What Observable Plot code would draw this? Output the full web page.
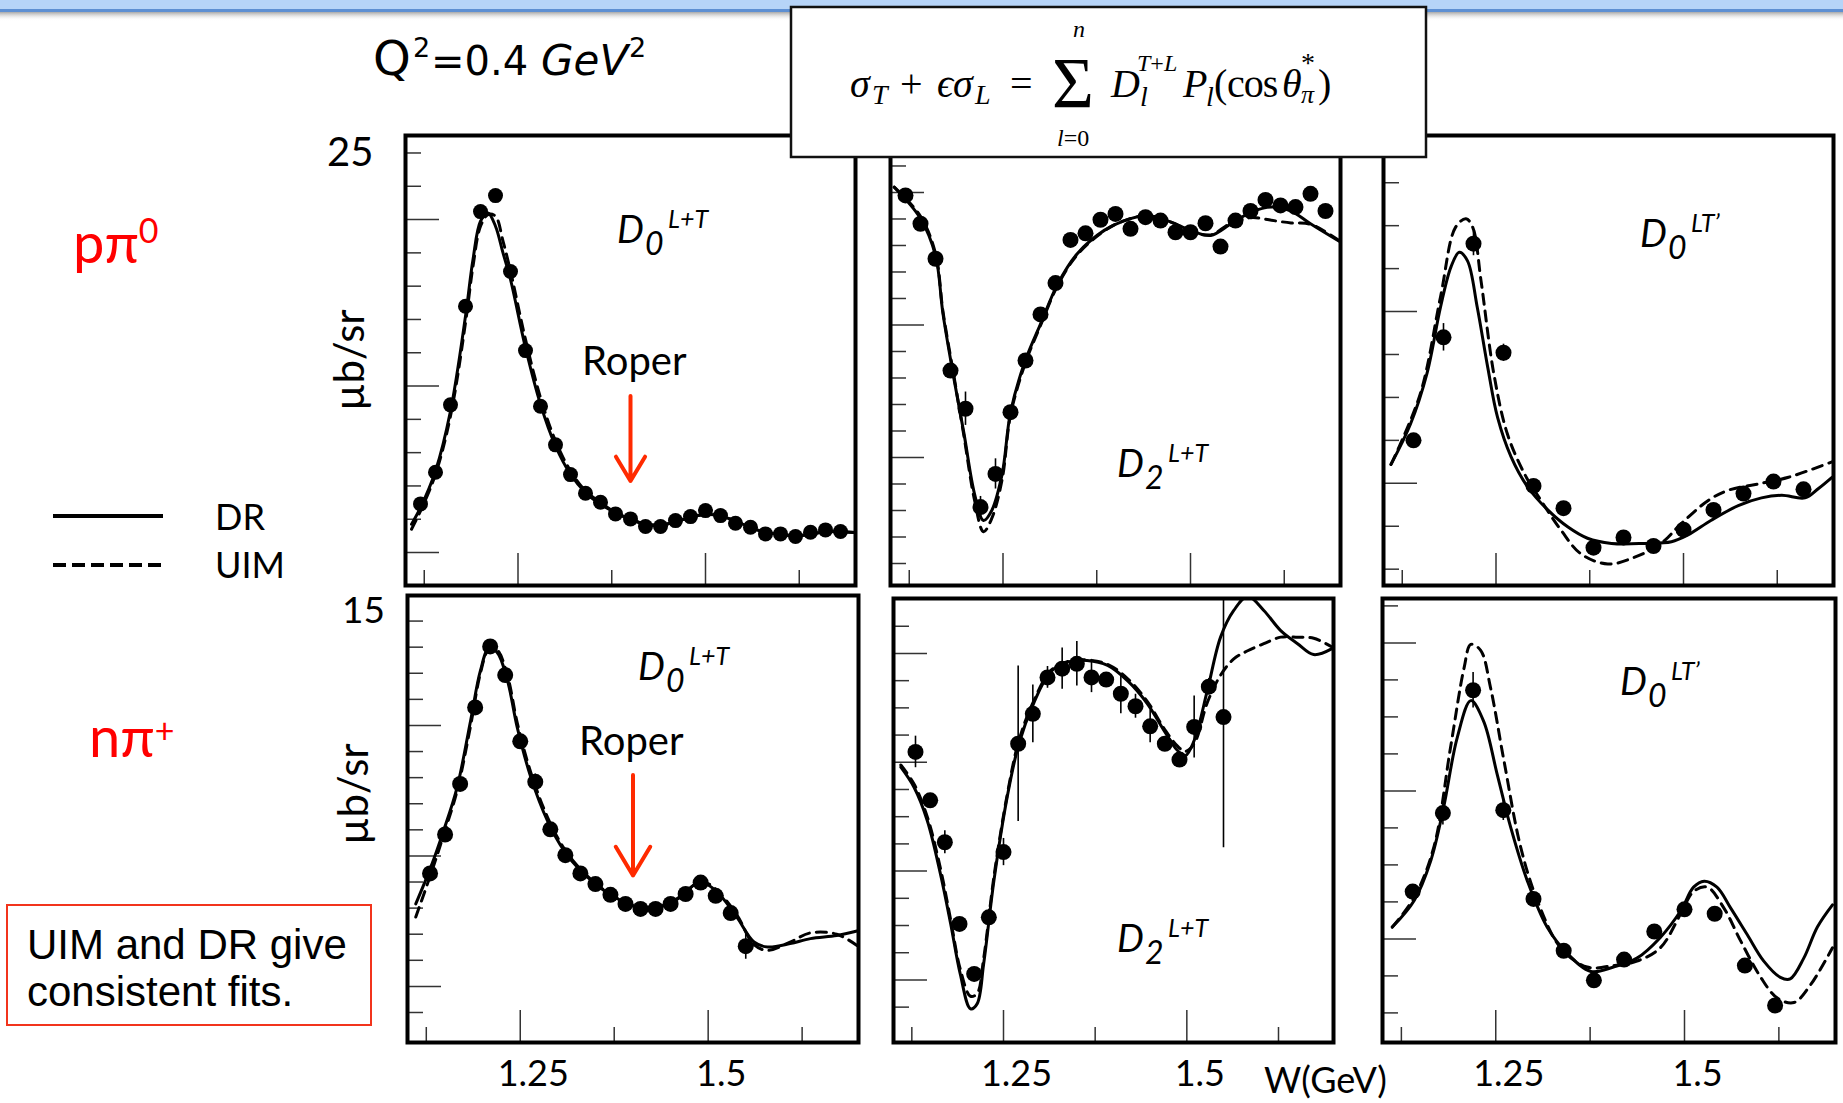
<!DOCTYPE html>
<html><head><meta charset="utf-8">
<script src="https://cdn.jsdelivr.net/npm/d3@7"></script>
<script src="https://cdn.jsdelivr.net/npm/@observablehq/plot@0.6"></script>
<style>
html,body{margin:0;padding:0;background:#fff;}
#page{position:relative;width:1843px;height:1103px;overflow:hidden;background:#fff;}
</style></head>
<body><div id="page"></div>
<script>
// ---------- axes (W in GeV) ----------
const X_DOMAIN = [1.1, 1.7];
const xMajor = [1.25, 1.5];
const xMinor = [1.125, 1.375, 1.625];
const xTickLabels = ["1.25", "1.5"];

// ---------- p pi0 : D0 L+T ----------
const p1W = [1.12,1.14,1.16,1.18,1.20,1.22,1.24,1.26,1.28,1.30,1.32,1.34,1.36,1.38,1.40,1.42,1.44,1.46,1.48,1.50,1.52,1.54,1.56,1.58,1.60,1.62,1.64,1.66,1.68];
const p1Y = [2.92,4.82,8.87,14.79,20.48,21.44,16.88,12.13,8.79,6.47,4.68,3.56,3.02,2.32,2.02,1.56,1.56,1.92,2.16,2.52,2.22,1.76,1.52,1.12,1.12,0.96,1.22,1.36,1.26];
const p1Err = [0,0,0,0,0,0,0,0,0,0,0,0,0,0,0,0,0,0,0,0,0,0,0,0,0,0,0,0,0];
const p1CurveW = [1.108,1.12,1.14,1.16,1.18,1.19,1.20,1.21,1.22,1.23,1.24,1.26,1.28,1.30,1.32,1.34,1.36,1.38,1.40,1.42,1.44,1.46,1.48,1.50,1.52,1.54,1.56,1.58,1.60,1.62,1.64,1.66,1.68,1.70];
const p1DR  = [1.7,2.7,4.9,8.5,14.2,17.6,19.9,20.4,19.6,18.0,16.4,12.3,8.9,6.4,4.7,3.6,2.9,2.4,2.0,1.7,1.65,1.85,2.1,2.3,2.2,1.9,1.5,1.2,1.1,1.0,1.1,1.25,1.25,1.2];
const p1UIM = [1.4,2.5,4.7,8.2,13.8,17.2,19.6,20.3,20.2,18.7,16.9,12.8,9.3,6.7,4.9,3.7,3.0,2.4,2.0,1.7,1.65,1.85,2.1,2.3,2.2,1.9,1.5,1.2,1.1,1.0,1.1,1.25,1.25,1.2];

// ---------- p pi0 : D2 L+T ----------
const p2W = [1.12,1.14,1.16,1.18,1.20,1.22,1.24,1.26,1.28,1.30,1.32,1.34,1.36,1.38,1.40,1.42,1.44,1.46,1.48,1.50,1.52,1.54,1.56,1.58,1.60,1.62,1.64,1.66,1.68];
const p2Y = [-0.11,-1.18,-2.50,-6.72,-8.16,-11.87,-10.62,-8.29,-6.34,-4.60,-3.42,-1.79,-1.54,-1.03,-0.81,-1.37,-0.93,-1.06,-1.50,-1.50,-1.16,-2.04,-1.06,-0.70,-0.28,-0.49,-0.55,-0.05,-0.70];
const p2Err = [0,0,0,0.2,0.63,0.4,0.57,0,0,0,0,0,0,0,0,0,0,0,0,0,0,0,0,0,0,0,0,0,0];
const p2CurveW = [1.105,1.14,1.16,1.17,1.185,1.198,1.212,1.224,1.235,1.249,1.26,1.279,1.301,1.323,1.349,1.385,1.412,1.443,1.474,1.50,1.527,1.554,1.581,1.608,1.634,1.66,1.70];
const p2DR  = [0.2,-0.98,-2.38,-4.58,-7.09,-9.1,-11.37,-12.38,-12.0,-10.6,-8.3,-6.4,-4.9,-3.45,-2.31,-1.43,-1.06,-0.87,-1.12,-1.43,-1.62,-1.18,-0.74,-0.55,-0.70,-1.18,-1.87];
const p2UIM = [0.2,-0.9,-2.3,-4.5,-7.0,-9.2,-11.6,-12.8,-12.3,-10.8,-8.4,-6.5,-4.95,-3.5,-2.35,-1.45,-1.06,-0.87,-1.12,-1.45,-1.6,-1.15,-0.95,-1.05,-1.15,-1.2,-1.85];

// ---------- p pi0 : D0 LT' ----------
const p3W = [1.14,1.18,1.22,1.26,1.30,1.34,1.38,1.42,1.46,1.50,1.54,1.58,1.62,1.66];
const p3Y = [0.50,1.70,2.79,1.52,-0.03,-0.29,-0.75,-0.63,-0.73,-0.54,-0.31,-0.12,0.02,-0.07];
const p3Err = [0,0.16,0.14,0.1,0,0,0,0,0,0,0,0,0,0];
const p3DRW = [1.110,1.136,1.158,1.176,1.190,1.201,1.212,1.225,1.239,1.252,1.270,1.292,1.319,1.346,1.372,1.404,1.448,1.484,1.506,1.537,1.573,1.604,1.631,1.662,1.680,1.698];
const p3DR  = [0.22,0.69,1.28,2.05,2.52,2.69,2.59,2.05,1.35,0.77,0.31,-0.04,-0.31,-0.51,-0.64,-0.70,-0.70,-0.68,-0.60,-0.43,-0.26,-0.17,-0.14,-0.17,-0.06,0.07];
const p3UIMW = [1.110,1.149,1.176,1.196,1.210,1.219,1.230,1.247,1.265,1.288,1.310,1.337,1.363,1.399,1.435,1.470,1.497,1.533,1.560,1.604,1.640,1.698];
const p3UIM  = [0.22,1.04,2.17,2.98,3.08,2.98,2.36,1.28,0.58,0.11,-0.20,-0.55,-0.82,-0.94,-0.86,-0.70,-0.47,-0.20,-0.08,0.0,0.07,0.25];

// ---------- n pi+ : D0 L+T ----------
const p4W = [1.13,1.15,1.17,1.19,1.21,1.23,1.25,1.27,1.29,1.31,1.33,1.35,1.37,1.39,1.41,1.43,1.45,1.47,1.49,1.51,1.53,1.55];
const p4Y = [4.33,5.82,7.76,10.69,13.03,11.93,9.39,7.84,6.02,5.03,4.33,3.92,3.51,3.16,2.97,2.97,3.16,3.54,3.98,3.47,2.81,1.54];
const p4Err = [0,0,0,0,0,0,0,0.3,0,0,0,0,0,0,0,0,0,0,0,0,0,0.5];
const p4CurveW = [1.111,1.131,1.148,1.166,1.184,1.197,1.208,1.219,1.233,1.246,1.264,1.286,1.308,1.330,1.361,1.388,1.414,1.441,1.463,1.485,1.499,1.516,1.538,1.561,1.579,1.609,1.636,1.671,1.698];
const p4DR  = [3.16,4.57,5.97,7.63,10.19,12.1,12.94,12.81,11.72,9.93,8.02,6.36,5.21,4.44,3.68,3.23,2.98,3.10,3.42,3.95,3.9,3.49,2.66,1.70,1.51,1.64,1.83,1.95,2.12];
const p4UIM = [2.66,4.3,5.8,7.5,10.0,12.0,12.9,12.9,11.9,10.1,8.2,6.5,5.3,4.5,3.7,3.25,3.0,3.1,3.45,3.95,3.95,3.55,2.75,1.6,1.38,1.7,2.05,2.0,1.57];

// ---------- n pi+ : D2 L+T ----------
const p5W = [1.13,1.15,1.17,1.19,1.21,1.23,1.25,1.27,1.29,1.31,1.33,1.35,1.37,1.39,1.41,1.43,1.45,1.47,1.49,1.51,1.53,1.55];
const p5Y = [-1.81,-2.70,-3.47,-4.97,-5.89,-4.85,-3.65,-1.66,-1.11,-0.44,-0.28,-0.19,-0.44,-0.48,-0.74,-0.97,-1.34,-1.66,-1.95,-1.35,-0.61,-1.17];
const p5Err = [0.29,0.1,0.21,0.1,0.1,0.15,0.25,1.43,0.53,0.2,0.38,0.41,0.28,0.1,0.37,0.22,0.30,0.1,0.1,0.57,0.15,2.4];
const p5CurveW = [1.110,1.128,1.146,1.164,1.178,1.191,1.205,1.214,1.223,1.237,1.255,1.271,1.291,1.314,1.337,1.364,1.392,1.419,1.446,1.469,1.487,1.498,1.510,1.528,1.546,1.564,1.583,1.605,1.628,1.651,1.673,1.698];
const p5DR  = [-2.09,-2.46,-3.07,-4.05,-4.97,-5.89,-6.53,-6.44,-5.70,-4.17,-2.64,-1.66,-0.92,-0.34,-0.16,-0.13,-0.22,-0.50,-0.92,-1.42,-1.78,-1.88,-1.60,-0.68,0.30,0.79,1.05,0.79,0.42,0.18,-0.02,0.09];
const p5UIM = [-2.05,-2.4,-3.0,-3.95,-4.9,-5.8,-6.3,-6.25,-5.6,-4.1,-2.6,-1.6,-0.88,-0.32,-0.15,-0.12,-0.2,-0.46,-0.88,-1.38,-1.7,-1.8,-1.66,-0.9,-0.4,-0.1,0.05,0.18,0.30,0.30,0.28,0.12];

// ---------- n pi+ : D0 LT' ----------
const p6W = [1.14,1.18,1.22,1.26,1.30,1.34,1.38,1.42,1.46,1.50,1.54,1.58,1.62];
const p6Y = [0.32,0.85,1.68,0.87,0.27,-0.08,-0.28,-0.14,0.05,0.20,0.17,-0.18,-0.45];
const p6Err = [0,0.08,0.12,0.07,0,0,0,0,0,0,0,0,0];
const p6DRW = [1.113,1.142,1.164,1.181,1.199,1.217,1.234,1.252,1.270,1.292,1.318,1.345,1.376,1.406,1.437,1.468,1.495,1.512,1.526,1.543,1.561,1.583,1.605,1.627,1.640,1.658,1.676,1.696];
const p6DR  = [0.08,0.26,0.53,0.89,1.36,1.61,1.47,1.11,0.75,0.39,0.08,-0.10,-0.22,-0.19,-0.13,0.01,0.19,0.35,0.39,0.35,0.21,0.03,-0.15,-0.26,-0.27,-0.13,0.08,0.23];
const p6UIMW = [1.113,1.142,1.168,1.190,1.208,1.217,1.230,1.243,1.261,1.283,1.305,1.336,1.371,1.406,1.437,1.468,1.495,1.512,1.530,1.552,1.574,1.601,1.623,1.645,1.667,1.696];
const p6UIM  = [0.08,0.28,0.62,1.29,1.83,1.99,1.95,1.70,1.20,0.62,0.26,-0.06,-0.19,-0.18,-0.15,-0.06,0.17,0.32,0.35,0.21,-0.01,-0.26,-0.40,-0.43,-0.31,-0.06];

// ---------- Roper markers ----------
const roperW = 1.40;
const roperArrowPpi0 = [9.4, 4.3];
const roperArrowNpip = [8.1, 4.25];

// ---------- build ----------
const page = document.getElementById("page");
const zip = (ws, ys) => ws.map((w, i) => ({w, y: ys[i]}));

function panel({frame, yDomain, yMajor, yMinor, w, y, err, drW, dr, uimW, uim, r = 8, tickLabels = false, arrow = null}) {
  const [l, t, rr, b] = frame;
  const m = 4, fw = rr - l, fh = b - t;
  const extraB = tickLabels ? 70 : 0;
  const pts = w.map((x, i) => ({w: x, y: y[i], e: err[i]}));
  const tickStyle = {stroke: "#333", strokeWidth: 1.5};
  const marks = [
    Plot.tickY(yMinor, {y: d => d, insetRight: fw - 16, ...tickStyle}),
    Plot.tickY(yMajor, {y: d => d, insetRight: fw - 34, ...tickStyle}),
    Plot.tickX(xMinor, {x: d => d, insetTop: fh - 15, ...tickStyle}),
    Plot.tickX(xMajor, {x: d => d, insetTop: fh - 32, ...tickStyle}),
    Plot.line(zip(uimW, uim), {x: "w", y: "y", curve: "catmull-rom", stroke: "black", strokeWidth: 3, strokeDasharray: "10,7", clip: true}),
    Plot.line(zip(drW, dr), {x: "w", y: "y", curve: "catmull-rom", stroke: "black", strokeWidth: 3, clip: true}),
    Plot.ruleX(pts.filter(d => d.e > 0), {x: "w", y1: d => d.y - d.e, y2: d => d.y + d.e, stroke: "black", strokeWidth: 1.6, clip: true}),
    Plot.dot(pts, {x: "w", y: "y", r, fill: "black", stroke: "none"}),
  ];
  if (arrow) {
    marks.push(Plot.arrow([arrow], {x1: d => d.w, x2: d => d.w, y1: d => d.from, y2: d => d.to,
      stroke: "#ff2a00", strokeWidth: 4, headLength: 24, headAngle: 62}));
  }
  if (tickLabels) {
    marks.push(Plot.text(xMajor, {x: d => d, text: (d, i) => xTickLabels[i], frameAnchor: "bottom",
      dy: 43, dx: 13, fontSize: 36, fontFamily: "Lato, 'Open Sans', sans-serif", fill: "black"}));
  }
  marks.push(Plot.frame({stroke: "black", strokeWidth: 4}));
  const svg = Plot.plot({
    width: fw + 2 * m, height: fh + 2 * m + extraB,
    marginTop: m, marginLeft: m, marginRight: m, marginBottom: m + extraB,
    x: {domain: X_DOMAIN, axis: null},
    y: {domain: yDomain, axis: null},
    style: {background: "transparent", overflow: "visible"},
    marks
  });
  const d = document.createElement("div");
  d.style.cssText = `position:absolute;left:${l - m}px;top:${t - m}px;`;
  d.appendChild(svg);
  page.appendChild(d);
}

panel({frame: [405, 135, 855, 585], yDomain: [-1.98, 25.05], yMajor: [0, 10, 20], yMinor: [2,4,6,8,12,14,16,18,22,24],
  w: p1W, y: p1Y, err: p1Err, drW: p1CurveW, dr: p1DR, uimW: p1CurveW, uim: p1UIM, r: 7.5,
  arrow: {w: roperW, from: roperArrowPpi0[0], to: roperArrowPpi0[1]}});
panel({frame: [890, 135, 1340, 585], yDomain: [-14.83, 2.15], yMajor: [0, -5, -10], yMinor: [1,-1,-2,-3,-4,-6,-7,-8,-9,-11,-12,-13,-14],
  w: p2W, y: p2Y, err: p2Err, drW: p2CurveW, dr: p2DR, uimW: p2CurveW, uim: p2UIM, r: 8});
panel({frame: [1383, 135, 1833, 585], yDomain: [-1.19, 4.05], yMajor: [0, 2], yMinor: [-1,-0.5,0.5,1,1.5,2.5,3,3.5],
  w: p3W, y: p3Y, err: p3Err, drW: p3DRW, dr: p3DR, uimW: p3UIMW, uim: p3UIM, r: 8});
panel({frame: [407, 595, 858, 1042], yDomain: [-2.15, 14.98], yMajor: [0, 5, 10], yMinor: [-1,1,2,3,4,6,7,8,9,11,12,13,14],
  w: p4W, y: p4Y, err: p4Err, drW: p4CurveW, dr: p4DR, uimW: p4CurveW, uim: p4UIM, r: 8, tickLabels: true,
  arrow: {w: roperW, from: roperArrowNpip[0], to: roperArrowNpip[1]}});
panel({frame: [893, 598, 1333, 1042], yDomain: [-7.15, 1.01], yMajor: [0, -2, -4, -6], yMinor: [0.5,-0.5,-1,-1.5,-2.5,-3,-3.5,-4.5,-5,-5.5,-6.5],
  w: p5W, y: p5Y, err: p5Err, drW: p5CurveW, dr: p5DR, uimW: p5CurveW, uim: p5UIM, r: 8, tickLabels: true});
panel({frame: [1382, 598, 1835, 1042], yDomain: [-0.70, 2.30], yMajor: [0, 1, 2], yMinor: [-0.5,-0.25,0.25,0.5,0.75,1.25,1.5,1.75,2.25],
  w: p6W, y: p6Y, err: p6Err, drW: p6DRW, dr: p6DR, uimW: p6UIMW, uim: p6UIM, r: 8, tickLabels: true});

// ---------- slide decorations & text ----------
const SANS = "Lato, 'Open Sans', sans-serif";
const SERIF = "'Liberation Serif', 'DejaVu Serif', serif";
function dlabel(x, y, sub, sup) {
  return `<text font-family="${SANS}" font-style="italic">` +
    `<tspan x="${x}" y="${y}" font-size="38">D</tspan>` +
    `<tspan x="${x + 28}" y="${y + 12}" font-size="32">${sub}</tspan>` +
    `<tspan x="${x + 51}" y="${y - 15}" font-size="25">${sup}</tspan></text>`;
}
const ov = `
<svg xmlns="http://www.w3.org/2000/svg" width="1843" height="1103" style="position:absolute;left:0;top:0;overflow:visible">
<defs><linearGradient id="sh" x1="0" y1="0" x2="0" y2="1"><stop offset="0" stop-color="#a8a8a8"/><stop offset="1" stop-color="#ffffff" stop-opacity="0"/></linearGradient></defs>
<rect x="0" y="0" width="1843" height="9" fill="#b6d4f8"/>
<rect x="0" y="9" width="1843" height="3" fill="#5d8fd2"/>
<rect x="0" y="12" width="1843" height="9" fill="url(#sh)"/>

<rect x="791" y="7" width="635" height="150" fill="#fff" stroke="#111" stroke-width="2.5"/>
<text font-family="${SERIF}" font-size="40" font-style="italic">
<tspan x="850" y="97">σ</tspan><tspan x="872" y="104" font-size="28">T</tspan>
<tspan x="900" y="97" font-style="normal">+</tspan>
<tspan x="937" y="97">ϵ</tspan><tspan x="953" y="97">σ</tspan><tspan x="975" y="104" font-size="28">L</tspan>
<tspan x="1010" y="97" font-style="normal">=</tspan>
<tspan x="1052" y="107" font-size="72" font-style="normal">Σ</tspan>
<tspan x="1073" y="37" font-size="24">n</tspan>
<tspan x="1057" y="146" font-size="24">l</tspan><tspan font-size="24" font-style="normal">=0</tspan>
<tspan x="1111" y="97">D</tspan>
<tspan x="1137" y="71" font-size="24">T</tspan><tspan font-size="24" font-style="normal">+</tspan><tspan font-size="24">L</tspan>
<tspan x="1140" y="106" font-size="28">l</tspan>
<tspan x="1183" y="97">P</tspan><tspan x="1206" y="106" font-size="28">l</tspan>
<tspan x="1214" y="97" font-style="normal">(</tspan><tspan x="1227" y="97" font-style="normal" letter-spacing="-1">cos</tspan>
<tspan x="1282" y="97">θ</tspan>
<tspan x="1301" y="72" font-size="28" font-style="normal">*</tspan>
<tspan x="1301" y="103" font-size="26">π</tspan>
<tspan x="1318" y="97" font-style="normal">)</tspan>
</text>

<text font-family="'DejaVu Sans', sans-serif"><tspan x="373" y="75" font-size="48">Q</tspan><tspan x="413" y="57" font-size="27">2</tspan><tspan x="431" y="75" font-size="40">=0.4</tspan><tspan x="541" y="75" font-size="42" font-style="italic">GeV</tspan><tspan x="629" y="57" font-size="27">2</tspan></text>

<text x="73" y="263" font-family="${SANS}" font-size="56" fill="#ff0000">pπ<tspan dy="-20" font-size="34">0</tspan></text>
<text x="89" y="757" font-family="${SANS}" font-size="56" fill="#ff0000">nπ<tspan dy="-14" font-size="34">+</tspan></text>

<line x1="53" y1="516" x2="163" y2="516" stroke="#000" stroke-width="4"/>
<line x1="53" y1="565" x2="163" y2="565" stroke="#000" stroke-width="4" stroke-dasharray="13,6"/>
<text x="215" y="530" font-family="${SANS}" font-size="36">DR</text>
<text x="215" y="578" font-family="${SANS}" font-size="36">UIM</text>

<text x="327" y="166" font-family="${SANS}" font-size="40">25</text>
<text x="342" y="623" font-family="${SANS}" font-size="37">15</text>
<text transform="translate(348,360) rotate(-90)" text-anchor="middle" dominant-baseline="central" font-family="${SANS}" font-size="42">µb/sr</text>
<text transform="translate(352,794) rotate(-90)" text-anchor="middle" dominant-baseline="central" font-family="${SANS}" font-size="42">µb/sr</text>

<rect x="7" y="905" width="364" height="120" fill="none" stroke="#f2341c" stroke-width="2"/>
<text font-family="'Liberation Sans', Arial, sans-serif" font-size="42"><tspan x="27" y="959">UIM and DR give</tspan><tspan x="27" y="1006">consistent fits.</tspan></text>

${dlabel(617, 243, "0", "L+T")}
${dlabel(1117, 477, "2", "L+T")}
${dlabel(1640, 247, "0", "LT’")}
${dlabel(638, 680, "0", "L+T")}
${dlabel(1117, 952, "2", "L+T")}
${dlabel(1620, 695, "0", "LT’")}

<text x="582" y="375" font-family="${SANS}" font-size="40">Roper</text>
<text x="579" y="755" font-family="${SANS}" font-size="40">Roper</text>
<text x="1264" y="1093" font-family="${SANS}" font-size="36">W(GeV)</text>
</svg>`;
const holder = document.createElement("div");
holder.innerHTML = ov;
page.appendChild(holder.firstElementChild);
</script>
</body></html>
